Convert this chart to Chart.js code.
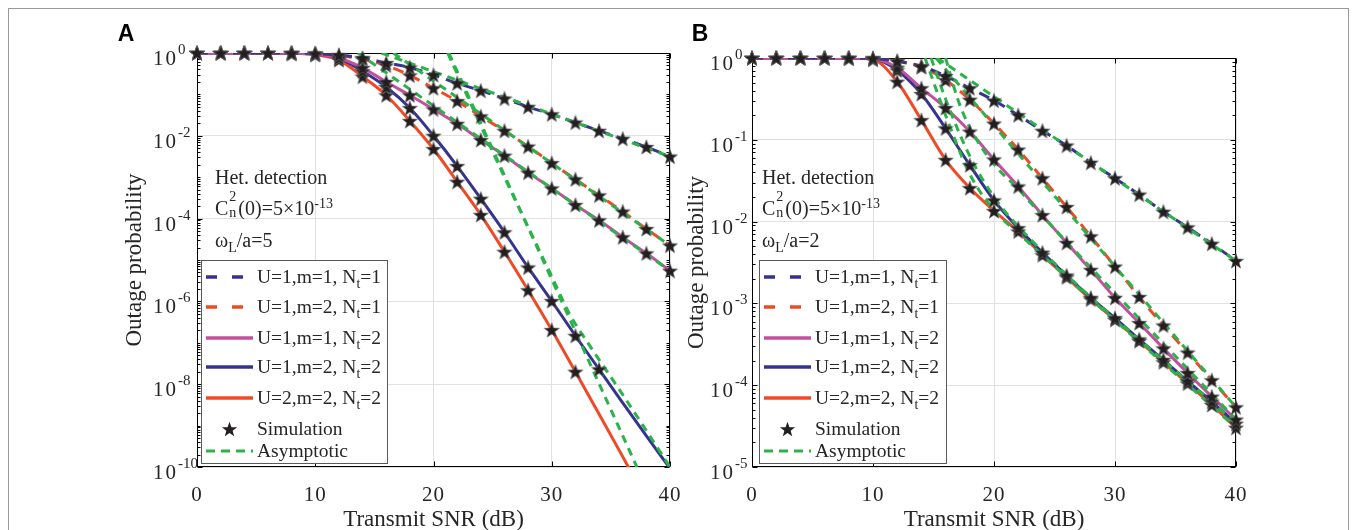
<!DOCTYPE html>
<html>
<head>
<meta charset="utf-8">
<script src="https://cdn.jsdelivr.net/npm/chart.js@4.4.1/dist/chart.umd.min.js"></script>
<style>
  body { margin: 0; width: 1356px; height: 530px; background: #fff; position: relative; overflow: hidden;
         font-family: 'Liberation Serif', 'Times New Roman', serif; color: #262626; }
  #frame { position: absolute; left: 8px; top: 8px; width: 1339px; height: 560px; border: 1px solid #9a9a9a; }
  canvas { position: absolute; top: 0; }
  #chartA { left: 0; }
  #chartB { left: 680px; }
  .note { position: absolute; font-size: 20px; line-height: 24px; white-space: nowrap; }
  .note sub, .lg sub { font-size: 0.7em; vertical-align: baseline; position: relative; top: 0.38em; }
  .note sup { font-size: 0.7em; vertical-align: baseline; position: relative; top: -0.5em; }
  .ss { display: inline-block; position: relative; width: 0.5em; height: 1em; }
  .ss b { position: absolute; left: 1px; font-weight: normal; font-size: 0.7em; line-height: 1; }
  .legend { position: absolute; border: 1px solid #595959; background: #fff; }
  .lg { position: absolute; font-size: 19.5px; line-height: 24px; white-space: nowrap; }
  .lg svg { position: absolute; top: 7px; }
</style>
</head>
<body>
<div id="frame"></div>
<canvas id="chartA" width="680" height="530"></canvas>
<canvas id="chartB" width="676" height="530"></canvas>

<div class="note" style="left:215px;top:165px">Het. detection</div>
<div class="note" style="left:215px;top:195px">C<span class="ss"><b style="top:-5px">2</b><b style="top:11px">n</b></span>(0)=5×10<sup>-13</sup></div>
<div class="note" style="left:215px;top:228px">ω<sub>L</sub>/a=5</div>

<div class="note" style="left:762px;top:165px">Het. detection</div>
<div class="note" style="left:762px;top:195px">C<span class="ss"><b style="top:-5px">2</b><b style="top:11px">n</b></span>(0)=5×10<sup>-13</sup></div>
<div class="note" style="left:762px;top:228px">ω<sub>L</sub>/a=2</div>

<div class="legend" id="legA" style="left:201px;top:260px;width:185px;height:202px"></div>
<div class="legend" id="legB" style="left:759px;top:260px;width:186px;height:202px"></div>

<script>
// ---- shared x grid (transmit SNR, dB) ----
const snr = [0, 2, 4, 6, 8, 10, 12, 14, 16, 18, 20, 22, 24, 26, 28, 30, 32, 34, 36, 38, 40];

// ---- Panel A (omega_L/a = 5): outage probability ----
const a_U1m1N1 = [1, 1, 1, 1, 0.993, 0.966, 0.891, 0.759, 0.575, 0.447, 0.295, 0.186, 0.123, 0.0794, 0.0501, 0.0331, 0.0209, 0.0132, 0.00851, 0.00537, 0.00316];
const a_U1m2N1 = [1, 1, 1, 1, 0.993, 0.966, 0.871, 0.708, 0.501, 0.288, 0.141, 0.0692, 0.0295, 0.0132, 0.0055, 0.00219, 8.91e-4, 3.63e-4, 1.48e-4, 5.62e-5, 2.24e-5];
const a_U1m1N2 = [1, 1, 1, 1, 0.989, 0.933, 0.759, 0.437, 0.2, 0.0955, 0.0437, 0.0195, 0.00794, 0.00331, 0.00129, 5.37e-4, 2.14e-4, 9.12e-5, 3.55e-5, 1.45e-5, 5.5e-6];
const a_U1m2N2 = [1, 1, 1, 1, 0.989, 0.933, 0.741, 0.363, 0.151, 0.0468, 0.01, 1.86e-3, 3.02e-4, 4.68e-5, 6.61e-6, 1.02e-6, 1.48e-7, 2.29e-8, 3.55e-9, 5.62e-10, 9.3e-11];
const a_U2m2N2 = [1, 1, 1, 1, 0.986, 0.912, 0.676, 0.269, 0.0955, 0.0229, 4.79e-3, 7.76e-4, 1.23e-4, 1.58e-5, 1.86e-6, 2.04e-7, 2.0e-8, 1.91e-9, 1.78e-10, 1.58e-11, 1.41e-12];
const a_simEnd = [40, 40, 40, 34, 32];

// asymptotes A
const a_asym1Snr = [15.6, 40], a_asym1 = [1, 3.16e-3];
const a_asym2Snr = [16.6, 40], a_asym2 = [1, 2.24e-5];
const a_asym3Snr = [13.6, 40], a_asym3 = [1, 5.5e-6];
const a_asym4Snr = [21.2, 26, 30, 31.5, 33, 36, 40], a_asym4 = [1, 1.0e-3, 4.0e-6, 5.0e-7, 1.05e-7, 5.6e-9, 1e-10];
const a_asym5Snr = [21.3, 37.2], a_asym5 = [1, 1e-10];

// ---- Panel B (omega_L/a = 2) ----
const b_U1m1N1 = [1, 1, 1, 1, 0.999, 0.989, 0.912, 0.794, 0.603, 0.427, 0.302, 0.2, 0.129, 0.0851, 0.0525, 0.0339, 0.0214, 0.0132, 0.00851, 0.00537, 0.00331];
const b_U1m2N1 = [1, 1, 1, 1, 0.999, 0.989, 0.912, 0.776, 0.537, 0.309, 0.158, 0.0759, 0.0339, 0.0151, 0.0066, 0.00282, 0.0012, 5.37e-4, 2.51e-4, 1.15e-4, 5.37e-5];
const b_U1m1N2 = [1, 1, 1, 1, 0.998, 0.977, 0.759, 0.427, 0.245, 0.126, 0.0575, 0.0269, 0.012, 0.0055, 0.00257, 0.00117, 5.75e-4, 2.82e-4, 1.41e-4, 7.24e-5, 3.8e-5];
const b_U1m2N2 = [1, 1, 1, 1, 0.998, 0.977, 0.708, 0.363, 0.138, 0.049, 0.0182, 0.00832, 0.00417, 0.00219, 0.00117, 6.61e-4, 3.63e-4, 2.04e-4, 1.12e-4, 6.31e-5, 3.39e-5];
const b_U2m2N2 = [1, 1, 1, 1, 0.997, 0.955, 0.513, 0.174, 0.0569, 0.0257, 0.0135, 0.00759, 0.00389, 0.00209, 0.00112, 6.31e-4, 3.47e-4, 1.91e-4, 1.05e-4, 5.75e-5, 3.02e-5];
const b_simEnd = [40, 40, 40, 40, 40];

const b_asym1Snr = [15.3, 40], b_asym1 = [1, 3.31e-3];
const b_asym2Snr = [15.2, 40], b_asym2 = [1, 5.37e-5];
const b_asym3Snr = [16.0, 17, 18, 20, 22, 24, 40], b_asym3 = [1, 0.316, 0.141, 0.0501, 0.0251, 0.01175, 3.8e-5];
const b_asym4Snr = [14.8, 16, 18, 20, 22, 40], b_asym4 = [1, 0.316, 0.0631, 0.02, 0.00871, 3.39e-5];
const b_asym5Snr = [14.3, 16, 18, 20, 22, 40], b_asym5 = [1, 0.2, 0.038, 0.0138, 0.00724, 3.02e-5];

// ---- axis ticks ----
const xTicks = [0, 10, 20, 30, 40];
const a_yLabelExps = [0, -2, -4, -6, -8, -10];
const b_yLabelExps = [0, -1, -2, -3, -4, -5];

const seriesNames = ['U=1,m=1, N<sub>t</sub>=1', 'U=1,m=2, N<sub>t</sub>=1', 'U=1,m=1, N<sub>t</sub>=2', 'U=1,m=2, N<sub>t</sub>=2', 'U=2,m=2, N<sub>t</sub>=2'];

const COLORS = { blue: '#35338f', red: '#ef4a25', pink: '#c2509c', green: '#2bb34b', star: '#231f20' };
const curveStyle = [
  { color: COLORS.blue, dash: [11, 7] },
  { color: COLORS.red, dash: [11, 7] },
  { color: COLORS.pink, dash: [] },
  { color: COLORS.blue, dash: [] },
  { color: COLORS.red, dash: [] },
];
const ASYM_DASH = [8, 6];
const STAR_R = 8.0, STAR_r = 3.3;

function xy(xs, ys) { return ys.map((v, i) => ({ x: xs[i], y: v })); }

function starPoints(cx, cy) {
  const pts = [];
  for (let i = 0; i < 10; i++) {
    const r = i % 2 ? STAR_r : STAR_R;
    const ang = -Math.PI / 2 + i * Math.PI / 5;
    pts.push([cx + r * Math.cos(ang), cy + r * Math.sin(ang)]);
  }
  return pts;
}

function starImage() {
  const c = document.createElement('canvas');
  c.width = 20; c.height = 20;
  const g = c.getContext('2d');
  g.beginPath();
  starPoints(10, 10.7).forEach(([px, py]) => g.lineTo(px, py));
  g.closePath();
  g.fillStyle = COLORS.star;
  g.fill();
  g.strokeStyle = 'rgba(110,110,110,0.8)';
  g.lineWidth = 0.7;
  g.stroke();
  return c;
}
const STAR = starImage();

// axis box, inward ticks, labels and titles (MATLAB look)
const framePlugin = {
  id: 'frame',
  beforeDatasetsDraw(chart, args, o) {
    const { ctx, chartArea: a, scales: { x, y } } = chart;
    ctx.save();
    ctx.strokeStyle = '#000';
    ctx.lineWidth = 1;
    const L = Math.round(a.left) + 0.5, R = Math.round(a.right) - 0.5;
    const T = Math.round(a.top) + 0.5, B = Math.round(a.bottom) - 0.5;
    ctx.strokeRect(L, T, R - L, B - T);
    ctx.beginPath();
    xTicks.forEach(v => {
      const px = Math.round(x.getPixelForValue(v)) + 0.5;
      ctx.moveTo(px, B); ctx.lineTo(px, B - 5);
      ctx.moveTo(px, T); ctx.lineTo(px, T + 5);
    });
    for (let e = o.minExp; e <= 0; e++) {
      for (let k = 1; k <= 9; k++) {
        if (e === 0 && k > 1) break;
        const py = Math.round(y.getPixelForValue(k * Math.pow(10, e))) + 0.5;
        const len = (k === 1 && o.labels.includes(e)) ? 5 : 3;
        ctx.moveTo(L, py); ctx.lineTo(L + len, py);
        ctx.moveTo(R, py); ctx.lineTo(R - len, py);
      }
    }
    ctx.stroke();
    ctx.restore();
  },
  afterDraw(chart, args, o) {
    const { ctx, chartArea: a, scales: { x, y } } = chart;
    ctx.save();
    ctx.fillStyle = '#262626';
    // y tick labels 10^n
    o.labels.forEach(e => {
      const py = y.getPixelForValue(Math.pow(10, e));
      ctx.textAlign = 'left';
      ctx.textBaseline = 'alphabetic';
      ctx.font = '21px "Liberation Serif"';
      ctx.letterSpacing = '2px';
      ctx.fillText('10', a.left - o.yLabelOff, py + 12);
      const w = ctx.measureText('10').width;
      ctx.letterSpacing = '0px';
      ctx.font = '15px "Liberation Serif"';
      ctx.fillText(String(e), a.left - o.yLabelOff + w, py + 1);
    });
    // x tick labels
    ctx.font = '21px "Liberation Serif"';
    ctx.letterSpacing = '1px';
    ctx.textAlign = 'center';
    xTicks.forEach(v => ctx.fillText(String(v), x.getPixelForValue(v), a.bottom + 34));
    ctx.letterSpacing = '0px';
    // axis titles
    ctx.font = '23px "Liberation Serif"';
    ctx.fillText('Transmit SNR (dB)', (a.left + a.right) / 2, a.bottom + 59);
    ctx.save();
    ctx.translate(o.yTitleX, (a.top + a.bottom) / 2);
    ctx.rotate(-Math.PI / 2);
    ctx.textBaseline = 'middle';
    ctx.fillText('Outage probability', 0, 0);
    ctx.restore();
    // panel letter
    ctx.font = 'bold 23px "Liberation Sans"';
    ctx.fillStyle = '#000';
    ctx.textBaseline = 'middle';
    ctx.fillText(o.letter, o.letterX, 35);
    ctx.restore();
  }
};

function makePanel(id, p) {
  const datasets = [];
  p.curves.forEach((vals, i) => {
    datasets.push({
      data: xy(snr, vals), borderColor: curveStyle[i].color, borderDash: curveStyle[i].dash,
      borderWidth: 3, pointRadius: 0, cubicInterpolationMode: 'monotone', order: 3
    });
  });
  p.asym.forEach(([xs, ys]) => {
    datasets.push({
      data: xy(xs, ys), borderColor: COLORS.green, borderDash: ASYM_DASH,
      borderWidth: 3, pointRadius: 0, cubicInterpolationMode: 'monotone', order: 2
    });
  });
  p.curves.forEach((vals, i) => {
    datasets.push({
      data: xy(snr, vals).filter(pt => pt.x <= p.simEnd[i]), showLine: false,
      pointStyle: STAR, pointRadius: 8, clip: false, order: 1
    });
  });
  return new Chart(document.getElementById(id), {
    type: 'line',
    data: { datasets },
    options: {
      responsive: false, animation: false, events: [],
      layout: { padding: p.padding },
      plugins: { legend: { display: false }, tooltip: { enabled: false }, frame: p.frame },
      scales: {
        x: {
          type: 'linear', min: 0, max: 40,
          afterBuildTicks: s => { s.ticks = xTicks.map(v => ({ value: v })); },
          ticks: { display: false },
          grid: { color: '#e1e1e1', drawTicks: false },
          border: { display: false }
        },
        y: {
          type: 'logarithmic', min: Math.pow(10, p.frame.minExp), max: 1,
          afterBuildTicks: s => { s.ticks = p.frame.labels.map(e => ({ value: Math.pow(10, e) })); },
          ticks: { display: false },
          grid: { color: '#e1e1e1', drawTicks: false },
          border: { display: false }
        }
      }
    },
    plugins: [framePlugin]
  });
}

makePanel('chartA', {
  curves: [a_U1m1N1, a_U1m2N1, a_U1m1N2, a_U1m2N2, a_U2m2N2],
  simEnd: a_simEnd,
  asym: [[a_asym1Snr, a_asym1], [a_asym2Snr, a_asym2], [a_asym3Snr, a_asym3], [a_asym4Snr, a_asym4], [a_asym5Snr, a_asym5]],
  padding: { left: 197, top: 53, right: 10, bottom: 63 },
  frame: { minExp: -10, labels: a_yLabelExps, yLabelOff: 44, yTitleX: 135, letter: 'A', letterX: 126 }
});

makePanel('chartB', {
  curves: [b_U1m1N1, b_U1m2N1, b_U1m1N2, b_U1m2N2, b_U2m2N2],
  simEnd: b_simEnd,
  asym: [[b_asym1Snr, b_asym1], [b_asym2Snr, b_asym2], [b_asym3Snr, b_asym3], [b_asym4Snr, b_asym4], [b_asym5Snr, b_asym5]],
  padding: { left: 72, top: 58, right: 120, bottom: 63 },
  frame: { minExp: -5, labels: b_yLabelExps, yLabelOff: 42, yTitleX: 17, letter: 'B', letterX: 20 }
});

// ---- legends (MATLAB style, inside the axes) ----
const legendRowsY = [16, 46, 77, 106, 137, 168, 190];
function buildLegend(id) {
  const box = document.getElementById(id);
  const rows = seriesNames.map((name, i) => {
    const st = curveStyle[i];
    const dash = st.dash.length ? 'stroke-dasharray="11 15"' : '';
    return { html: name, svg: `<line x1="0" y1="5" x2="47" y2="5" stroke="${st.color}" stroke-width="3.5" ${dash}/>` };
  });
  rows.push({ html: 'Simulation', svg: '', star: true });
  rows.push({ html: 'Asymptotic', svg: `<line x1="0" y1="5" x2="47" y2="5" stroke="${COLORS.green}" stroke-width="3" stroke-dasharray="9 6"/>` });
  rows.forEach((r, i) => {
    const d = document.createElement('div');
    d.className = 'lg';
    d.style.left = '0px';
    d.style.top = (legendRowsY[i] - 12) + 'px';
    d.style.width = '100%';
    d.style.height = '24px';
    const pts = starPoints(23.5, 10.8).map(([px, py]) => px.toFixed(2) + ',' + py.toFixed(2)).join(' ');
    const sym = r.star
      ? `<svg width="47" height="20" style="left:4px;top:2px"><polygon fill="${COLORS.star}" points="${pts}"/></svg>`
      : `<svg width="47" height="10" style="left:4px">${r.svg}</svg>`;
    d.innerHTML = sym + `<span style="position:absolute;left:55px;top:0">${r.html}</span>`;
    box.appendChild(d);
  });
}
buildLegend('legA');
buildLegend('legB');
</script>
</body>
</html>
